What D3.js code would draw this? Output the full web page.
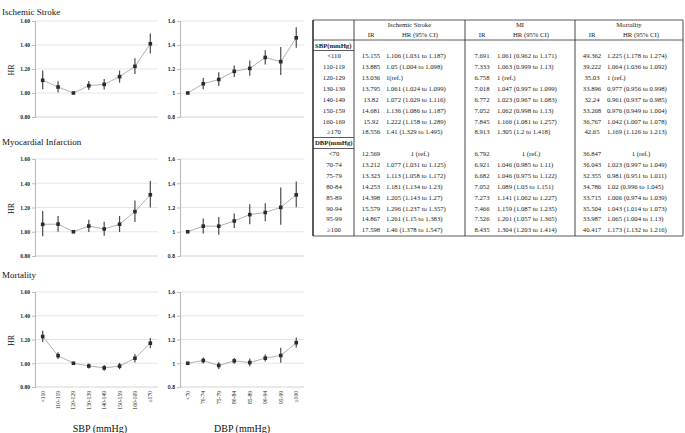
<!DOCTYPE html>
<html>
<head>
<meta charset="utf-8">
<script src="https://cdn.jsdelivr.net/npm/d3@7"></script>
<style>
  body { margin: 0; background: #fff; }
  svg { display: block; }
</style>
</head>
<body>
<div id="graph"></div>
<script>
// categories
const sbpCats = ["<110", "110-119", "120-129", "130-139", "140-149", "150-159", "160-169", "≥170"];
const dbpCats = ["<70", "70-74", "75-79", "80-84", "85-89", "90-94", "95-99", "≥100"];
const yTicks = [0.8, 1.0, 1.2, 1.4, 1.6];

// Ischemic stroke
const isSbpIR = [15.155, 13.885, 13.036, 13.795, 13.82, 14.681, 15.92, 18.556];
const isSbpHR = [1.106, 1.05, 1, 1.061, 1.072, 1.136, 1.222, 1.41];
const isSbpLo = [1.031, 1.004, null, 1.024, 1.029, 1.086, 1.158, 1.329];
const isSbpHi = [1.187, 1.098, null, 1.099, 1.116, 1.187, 1.289, 1.495];
const isDbpIR = [12.569, 13.212, 13.323, 14.253, 14.398, 15.579, 14.867, 17.598];
const isDbpHR = [1, 1.077, 1.113, 1.181, 1.205, 1.296, 1.261, 1.46];
const isDbpLo = [null, 1.031, 1.058, 1.134, 1.143, 1.237, 1.15, 1.378];
const isDbpHi = [null, 1.125, 1.172, 1.23, 1.27, 1.357, 1.383, 1.547];

// Myocardial infarction
const miSbpIR = [7.691, 7.333, 6.758, 7.018, 6.772, 7.052, 7.845, 8.913];
const miSbpHR = [1.061, 1.063, 1, 1.047, 1.023, 1.062, 1.166, 1.305];
const miSbpLo = [0.962, 0.999, null, 0.997, 0.967, 0.998, 1.081, 1.2];
const miSbpHi = [1.171, 1.13, null, 1.099, 1.083, 1.13, 1.257, 1.418];
const miDbpIR = [6.792, 6.921, 6.682, 7.052, 7.273, 7.466, 7.526, 8.435];
const miDbpHR = [1, 1.046, 1.046, 1.089, 1.141, 1.159, 1.201, 1.304];
const miDbpLo = [null, 0.985, 0.975, 1.03, 1.062, 1.087, 1.057, 1.203];
const miDbpHi = [null, 1.11, 1.122, 1.151, 1.227, 1.235, 1.365, 1.414];

// Mortality
const moSbpIR = [49.362, 39.222, 35.03, 33.896, 32.24, 33.268, 36.767, 42.65];
const moSbpHR = [1.225, 1.064, 1, 0.977, 0.961, 0.976, 1.042, 1.169];
const moSbpLo = [1.178, 1.036, null, 0.956, 0.937, 0.949, 1.007, 1.126];
const moSbpHi = [1.274, 1.092, null, 0.998, 0.985, 1.004, 1.078, 1.213];
const moDbpIR = [36.847, 36.043, 32.355, 34.786, 33.715, 35.504, 33.987, 40.417];
const moDbpHR = [1, 1.023, 0.981, 1.02, 1.006, 1.043, 1.065, 1.173];
const moDbpLo = [null, 0.997, 0.951, 0.996, 0.974, 1.014, 1.004, 1.132];
const moDbpHi = [null, 1.049, 1.011, 1.045, 1.039, 1.073, 1.13, 1.216];

const W = 685, H = 433;
const serif = "'Liberation Serif', 'Times New Roman', serif";
const sans = "Carlito, 'Liberation Sans', Arial, sans-serif";

const svg = d3.select("#graph").append("svg")
  .attr("width", W).attr("height", H);

const rows = [
  { title: "Ischemic Stroke", titleY: 15, top: 21, bottom: 117,
    sbp: [isSbpHR, isSbpLo, isSbpHi], dbp: [isDbpHR, isDbpLo, isDbpHi] },
  { title: "Myocardial Infarction", titleY: 145, top: 159, bottom: 256,
    sbp: [miSbpHR, miSbpLo, miSbpHi], dbp: [miDbpHR, miDbpLo, miDbpHi] },
  { title: "Mortality", titleY: 278, top: 292, bottom: 387,
    sbp: [moSbpHR, moSbpLo, moSbpHi], dbp: [moDbpHR, moDbpLo, moDbpHi], xLabels: true }
];

function drawPanel(g, cats, vals, x0, x1, top, bottom, fmt, font, showX) {
  const x = d3.scalePoint().domain(cats).range([x0, x1]).padding(0.5);
  const y = d3.scaleLinear().domain([0.8, 1.6]).range([bottom, top]);
  const pts = cats.map((c, i) => ({ c: c, hr: vals[0][i], lo: vals[1][i], hi: vals[2][i] }));

  // gridlines
  g.selectAll(null).data(yTicks).join("line")
    .attr("x1", x0).attr("x2", x1)
    .attr("y1", d => y(d)).attr("y2", d => y(d))
    .attr("stroke", d => d === 0.8 ? "#c8c8c8" : "#e0e0e0")
    .attr("stroke-width", 0.8);

  // y axis
  const ax = g.append("g").attr("transform", "translate(" + x0 + ",0)")
    .call(d3.axisLeft(y).tickValues(yTicks).tickFormat(fmt).tickSize(3).tickPadding(2));
  ax.select(".domain").attr("stroke", "#bdbdbd").attr("stroke-width", 1.2);
  ax.selectAll(".tick line").attr("stroke", "#bdbdbd");
  ax.selectAll(".tick text").attr("font-family", font).attr("font-size", 5.6)
    .attr("fill", "#222").attr("font-weight", "bold");

  // connecting line
  g.append("path").datum(pts)
    .attr("fill", "none").attr("stroke", "#a8a8a8").attr("stroke-width", 0.9)
    .attr("d", d3.line().x(d => x(d.c)).y(d => y(d.hr)));

  // error bars
  g.selectAll(null).data(pts.filter(d => d.lo !== null)).join("line")
    .attr("x1", d => x(d.c)).attr("x2", d => x(d.c))
    .attr("y1", d => y(d.lo)).attr("y2", d => y(d.hi))
    .attr("stroke", "#4a4a4a").attr("stroke-width", 1.2);

  // markers
  g.selectAll(null).data(pts).join("path")
    .attr("transform", d => "translate(" + x(d.c) + "," + y(d.hr) + ")")
    .attr("d", d3.symbol(d3.symbolSquare, 13))
    .attr("fill", "#2b2b2b");

  if (showX) {
    g.selectAll(null).data(cats).join("text")
      .attr("transform", d => "translate(" + (x(d) + 2) + "," + (bottom + 4) + ") rotate(-90)")
      .attr("text-anchor", "end")
      .attr("font-family", serif).attr("font-size", 5.6).attr("fill", "#222")
      .text(d => d);
  }
}

rows.forEach(r => {
  const g = svg.append("g");
  g.append("text").attr("x", 2).attr("y", r.titleY)
    .attr("font-family", serif).attr("font-size", 9).attr("fill", "#111")
    .text(r.title);
  const mid = (r.top + r.bottom) / 2 + 1;
  g.append("text").attr("transform", "translate(14," + mid + ") rotate(-90)")
    .attr("text-anchor", "middle")
    .attr("font-family", serif).attr("font-size", 8).attr("fill", "#111")
    .text("HR");
  drawPanel(g, sbpCats, r.sbp, 35, 158, r.top, r.bottom, d3.format(".2f"), serif, r.xLabels);
  drawPanel(g, dbpCats, r.dbp, 180, 304, r.top, r.bottom, d3.format("~g"), sans, r.xLabels);
});

svg.append("text").attr("x", 100).attr("y", 432)
  .attr("text-anchor", "middle").attr("font-family", serif).attr("font-size", 10).attr("fill", "#111")
  .text("SBP (mmHg)");
svg.append("text").attr("x", 242).attr("y", 432)
  .attr("text-anchor", "middle").attr("font-family", serif).attr("font-size", 10).attr("fill", "#111")
  .text("DBP (mmHg)");

// ---- table ----
const t = svg.append("g").attr("font-family", serif).attr("font-size", 6.7).attr("fill", "#1a1a1a");
const tl = 313, tr = 683, tTop = 20, tBot = 236;
const colX = [313, 354, 465, 575, 683];
const groups = [
  { name: "Ischemic Stroke", ir: [isSbpIR, isDbpIR], hr: [[isSbpHR, isSbpLo, isSbpHi], [isDbpHR, isDbpLo, isDbpHi]], sbpRef: "1(ref.)" },
  { name: "MI", ir: [miSbpIR, miDbpIR], hr: [[miSbpHR, miSbpLo, miSbpHi], [miDbpHR, miDbpLo, miDbpHi]], sbpRef: "1 (ref.)" },
  { name: "Mortality", ir: [moSbpIR, moDbpIR], hr: [[moSbpHR, moSbpLo, moSbpHi], [moDbpHR, moDbpLo, moDbpHi]], sbpRef: "1 (ref.)" }
];
const rowStep = 10.875, firstRow = 56;
const rowY = i => firstRow + rowStep * i;

const line = (x1, y1, x2, y2, w) => t.append("line")
  .attr("x1", x1).attr("y1", y1).attr("x2", x2).attr("y2", y2)
  .attr("stroke", "#333").attr("stroke-width", w || 0.8);

line(tl, tTop, tr, tTop);
line(tl, 40, tr, 40);
line(tl, 50.5, colX[1], 50.5);
line(tl, rowY(8) - 5.5, colX[1], rowY(8) - 5.5);
line(tl, rowY(8) + 5.5, colX[1], rowY(8) + 5.5);
line(tl, tBot, tr, tBot);
colX.forEach((cx, i) => line(cx, tTop, cx, tBot, i === 0 ? 1.6 : 0.9));

const txt = (x, y, s, anchor, bold) => t.append("text")
  .attr("x", x).attr("y", y).attr("dy", "0.35em")
  .attr("text-anchor", anchor || "start")
  .attr("font-weight", bold ? "bold" : null)
  .text(s);

txt(315, 45.5, "SBP(mmHg)", "start", true);
txt(315, rowY(8), "DBP(mmHg)", "start", true);
sbpCats.forEach((c, i) => txt(334, rowY(i), c, "middle"));
dbpCats.forEach((c, i) => txt(334, rowY(i + 9), c, "middle"));

groups.forEach((gr, k) => {
  const c0 = colX[k + 1], c1 = colX[k + 2];
  const irX = c0 + 17, hrX = c0 + 32, hrC = c0 + 66;
  txt((c0 + c1) / 2, 25, gr.name, "middle");
  txt(irX, 35, "IR", "middle");
  txt(hrC, 35, "HR (95% CI)", "middle");
  [0, 1].forEach(s => {
    const off = s === 0 ? 0 : 9;
    gr.ir[s].forEach((v, i) => {
      txt(irX, rowY(i + off), String(v), "middle");
      const h = gr.hr[s];
      if (h[1][i] === null) {
        if (s === 0) txt(hrX, rowY(i + off), gr.sbpRef, "start");
        else txt(hrC, rowY(i + off), "1 (ref.)", "middle");
      } else {
        txt(hrX, rowY(i + off), h[0][i] + " (" + h[1][i] + " to " + h[2][i] + ")", "start");
      }
    });
  });
});
</script>
</body>
</html>
